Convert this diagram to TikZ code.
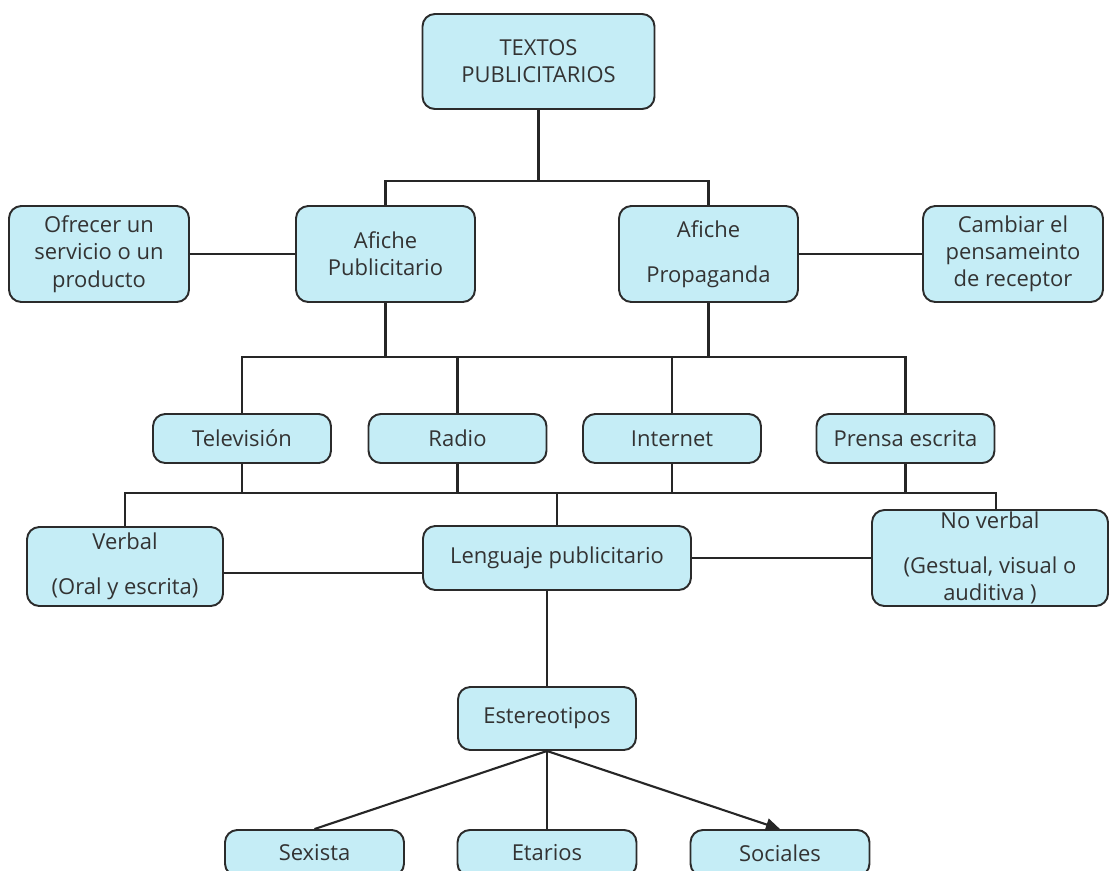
\documentclass[tikz,border=0pt]{standalone}
\usepackage{fontspec}
\setmainfont{Open Sans}
\usetikzlibrary{arrows.meta}
\definecolor{boxfill}{HTML}{C5EDF6}
\definecolor{boxline}{HTML}{2B2B2B}
\definecolor{boxtext}{HTML}{333333}

\begin{document}
\begin{tikzpicture}[x=0.02cm,y=-0.02cm]
\tikzset{box/.style={draw=boxline,fill=boxfill,line width=1.1pt,rounded corners=7pt,align=center,text=boxtext,font=\fontsize{12.5}{15.5}\selectfont,inner sep=0pt}}
\tikzset{tall/.style={box,minimum width=3.6cm,minimum height=1.92cm}}
\tikzset{flat/.style={box,minimum width=3.56cm,minimum height=0.98cm}}
\tikzset{link/.style={draw=black!85,line width=1.2pt}}

\useasboundingbox (0,0) rectangle (1110,870);

\node[box,minimum width=4.64cm,minimum height=1.9cm] (textos) at (538.5,61.5) {TEXTOS\\PUBLICITARIOS};
\node[tall] (ofrecer) at (99,254) {Ofrecer un\\servicio o un\\producto};
\node[tall,minimum width=3.58cm] (afpub) at (385.5,254) {Afiche\\Publicitario};
\node[tall,minimum width=3.58cm] (afprop) at (708.5,254) {Afiche\\[10pt]Propaganda};
\node[tall] (cambiar) at (1013,254) {Cambiar el\\pensameinto\\de receptor};

\node[flat] (tv) at (242,438.5) {Televisión};
\node[flat] (radio) at (457.5,438.5) {Radio};
\node[flat] (internet) at (672,438.5) {Internet};
\node[flat] (prensa) at (905.5,438.5) {Prensa escrita};

\node[box,minimum width=3.92cm,minimum height=1.58cm] (verbal) at (125,566.5) {Verbal\\[10pt](Oral y escrita)};
\node[box,minimum width=5.36cm,minimum height=1.28cm] (lenguaje) at (557,558) {Lenguaje publicitario};
\node[box,minimum width=4.72cm,minimum height=1.92cm] (noverbal) at (990,558) {No verbal\\[10pt](Gestual, visual o\\auditiva )};

\node[flat,minimum height=1.26cm] (estereo) at (547,718.5) {Estereotipos};
\node[flat,minimum width=3.58cm,minimum height=0.92cm] (sexista) at (314.5,853) {Sexista};
\node[flat,minimum width=3.58cm,minimum height=0.92cm] (etarios) at (547,853) {Etarios};
\node[flat,minimum width=3.58cm,minimum height=0.92cm] (sociales) at (780,853) {Sociales};

\coordinate (j1) at (538.5,181);
\coordinate (j2) at (385.5,357);
\coordinate (j3) at (708.5,357);
\coordinate (j4) at (557,493);

\draw[link] (textos.south) -- (j1);
\draw[link] (afpub.north) |- (j1) -| (afprop.north);
\draw[link] (ofrecer.east) -- (afpub.west);
\draw[link] (afprop.east) -- (cambiar.west);

\draw[link] (afpub.south) -- (j2);
\draw[link] (afprop.south) -- (j3);
\draw[link] (tv.north) |- (j2) -- (j3) -| (prensa.north);
\draw[link] (radio.north) -- (radio.north |- j2);
\draw[link] (internet.north) -- (internet.north |- j3);

\foreach \m in {tv,radio,internet,prensa}
  \draw[link] (\m.south) -- (\m.south |- j4);
\draw[link] (verbal.north) |- (j4) -| ([xshift=0.12cm]noverbal.north);
\draw[link] (j4) -- (lenguaje.north);
\draw[link] ([yshift=-0.13cm]verbal.east) -- ([yshift=-0.13cm]verbal.east -| lenguaje.west);
\draw[link] (lenguaje.east) -- (noverbal.west);

\draw[link] (lenguaje.south -| estereo.north) -- (estereo.north);
\draw[link] (estereo.south) -- (sexista.north);
\draw[link] (estereo.south) -- (etarios.north);
\draw[link,-{Triangle[length=8pt,width=7pt]}] (estereo.south) -- (sociales.north);

\end{tikzpicture}
\end{document}
